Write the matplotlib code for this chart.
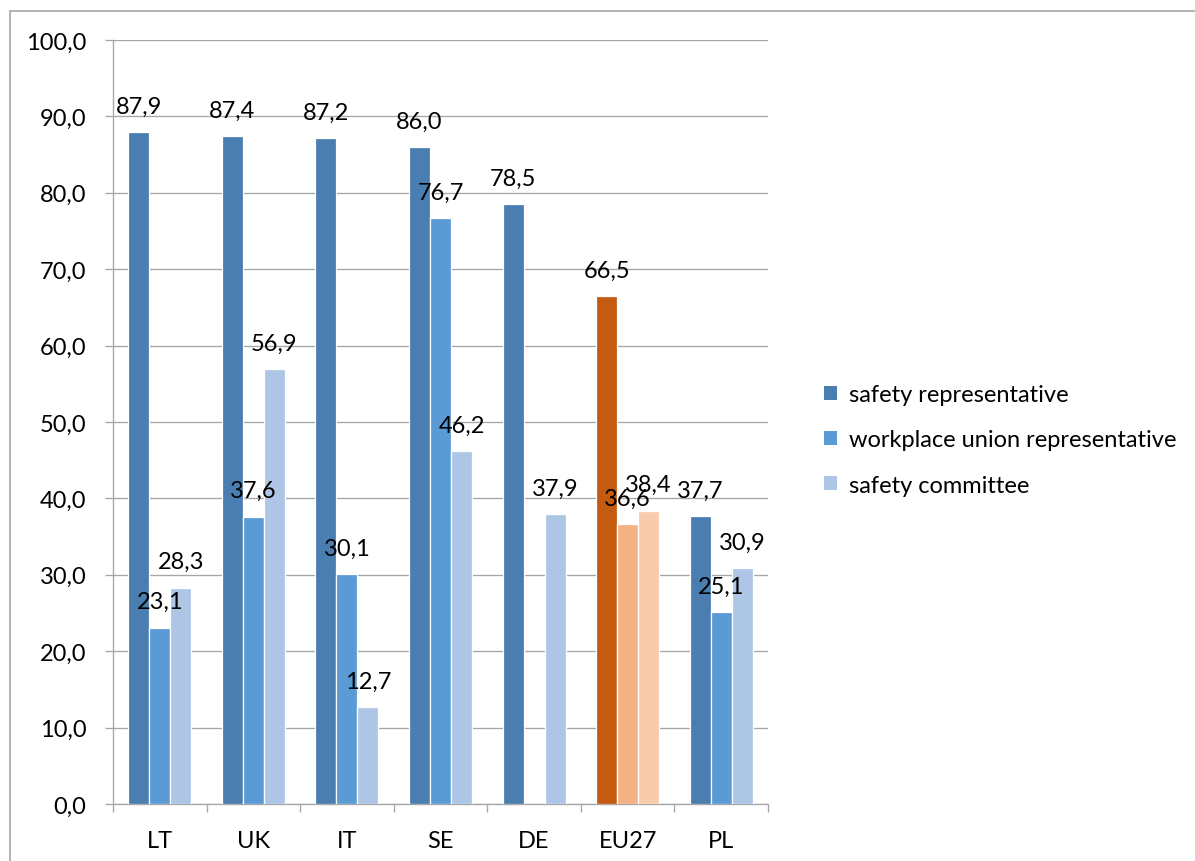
import numpy as np
import matplotlib.pyplot as plt
from matplotlib.patches import Rectangle, Patch

countries = ["LT", "UK", "IT", "SE", "DE", "EU27", "PL"]
safety_rep = [87.9, 87.4, 87.2, 86.0, 78.5, 66.5, 37.7]
union_rep = [23.1, 37.6, 30.1, 76.7, np.nan, 36.6, 25.1]
safety_comm = [28.3, 56.9, 12.7, 46.2, 37.9, 38.4, 30.9]
series_names = ["safety representative", "workplace union representative", "safety committee"]
yticks = np.arange(0, 101, 10)

blues = ["#4A7EB1", "#5B9BD5", "#ADC6E6"]
oranges = ["#C55A11", "#F4B183", "#F8CBAD"]
highlight = "EU27"

W, H = 1195, 862
fig = plt.figure(figsize=(W / 100, H / 100), dpi=100)
plt.rcParams['font.family'] = ['Lato', 'DejaVu Sans']
FS = 17
grid_c = "#A6A6A6"

ax = fig.add_axes([113 / W, 1 - 805 / H, (768 - 113) / W, (805 - 41) / H])

x = np.arange(len(countries))
bw = 0.2245
for k, vals in enumerate([safety_rep, union_rep, safety_comm]):
    cols = [oranges[k] if c == highlight else blues[k] for c in countries]
    xs = x + (k - 1) * bw
    for xi, v, c in zip(xs, vals, cols):
        if np.isnan(v):
            continue
        ax.bar(xi, v, width=bw, color=c, edgecolor="white", linewidth=0.9, zorder=3)
        ax.annotate(f"{v:.1f}".replace(".", ","), (xi, v), xytext=(0, 14),
                    textcoords="offset points", ha="center", va="baseline",
                    fontsize=FS, color="black", zorder=5)

ax.set_xlim(-0.5, len(countries) - 0.5)
ax.set_ylim(0, 100)
ax.set_yticks(yticks)
ax.set_yticklabels([f"{t:.1f}".replace(".", ",") for t in yticks], fontsize=FS)
ax.yaxis.grid(True, color=grid_c, linewidth=0.95, zorder=0)
ax.set_axisbelow(True)

# category ticks sit on the boundaries, labels in the middle
ax.set_xticks(np.arange(-0.5, len(countries)), minor=False)
ax.set_xticklabels([])
ax.set_xticks(x, minor=True)
ax.set_xticklabels(countries, minor=True, fontsize=FS)
ax.tick_params(axis="x", which="major", length=6, width=0.95, color=grid_c, direction="out")
ax.tick_params(axis="x", which="minor", length=0, pad=19)
ax.tick_params(axis="y", length=6, width=0.95, color=grid_c, pad=13)

for s in ["top", "right"]:
    ax.spines[s].set_visible(False)
for s in ["left", "bottom"]:
    ax.spines[s].set_color(grid_c)
    ax.spines[s].set_linewidth(0.95)

handles = [Patch(facecolor=c, edgecolor="none") for c in blues]
fig.legend(handles, series_names, loc="center left",
           bbox_to_anchor=(803 / W, 1 - 441 / H), frameon=False, fontsize=FS,
           handlelength=0.55, handleheight=0.55, handletextpad=0.5, labelspacing=1.02)

# outer chart frame
fig.patches.append(Rectangle((10 / W, -0.1), 1.2, 1.1 - 12 / H, transform=fig.transFigure,
                             fill=False, edgecolor=grid_c, linewidth=1.2))

fig.savefig("out.png", dpi=100)
